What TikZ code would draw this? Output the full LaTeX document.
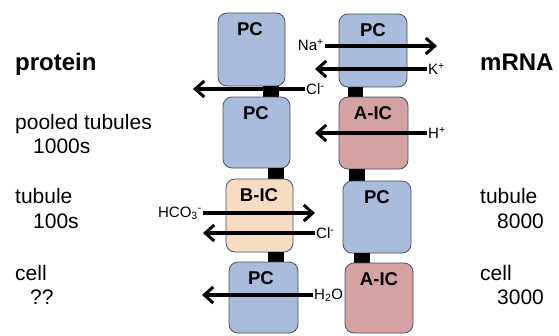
\documentclass[tikz,border=0pt]{standalone}
\usepackage{fontspec}
\setmainfont{Liberation Sans}
\usetikzlibrary{arrows.meta}
\definecolor{pcblue}{RGB}{169,188,219}
\definecolor{aicred}{RGB}{212,163,161}
\definecolor{bicorange}{RGB}{246,221,194}
\definecolor{cellborder}{RGB}{70,80,100}
\tikzset{
  cellbox/.style={draw=cellborder, line width=0.8pt, rounded corners=9pt},
  junction/.style={fill=black, draw=none},
  celllabel/.style={font=\fontsize{18.5}{21}\selectfont\bfseries, inner sep=0pt},
  ionlabel/.style={font=\fontsize{15}{18}\selectfont, inner sep=1pt},
  sidetext/.style={font=\fontsize{21}{24}\selectfont, inner sep=0pt, anchor=base west},
  sidehead/.style={font=\fontsize{24}{27}\selectfont\bfseries, inner sep=0pt, anchor=base west},
  flux/.style={line width=3.4pt, -{Straight Barb[length=9pt,width=16pt,line width=3pt]}}
}
\begin{document}
\begin{tikzpicture}[x=1pt,y=-1pt]
\useasboundingbox (0,0) rectangle (559,335);
% left column
\draw[cellbox, fill=pcblue] (218,13) rectangle (285,86);
\fill[junction] (263,86) rectangle (279,97);
\draw[cellbox, fill=pcblue] (223,97) rectangle (290,168);
\fill[junction] (268,168) rectangle (284,179);
\draw[cellbox, fill=bicorange] (226,179) rectangle (293,252);
\fill[junction] (268,252) rectangle (284,262);
\draw[cellbox, fill=pcblue] (229,262) rectangle (298,333);
% right column
\draw[cellbox, fill=pcblue] (339,14) rectangle (407,87);
\fill[junction] (348,87) rectangle (363,97);
\draw[cellbox, fill=aicred] (339,97) rectangle (408,169);
\fill[junction] (349,169) rectangle (365,181);
\draw[cellbox, fill=pcblue] (343,181) rectangle (411,253);
\fill[junction] (354,253) rectangle (370,263);
\draw[cellbox, fill=aicred] (345,263) rectangle (413,333);
% cell labels
\node[celllabel] (l1) at (250,29) {PC};
\node[celllabel] (l2) at (256,113) {PC};
\node[celllabel] (l3) at (259,195) {B-IC};
\node[celllabel] (l4) at (261,278) {PC};
\node[celllabel] (r1) at (373,30) {PC};
\node[celllabel] (r2) at (373,113) {A-IC};
\node[celllabel] (r3) at (377,197) {PC};
\node[celllabel] (r4) at (379,279) {A-IC};
% ion labels and arrows
\node[ionlabel, anchor=east] (na) at (325,45) {Na\textsuperscript{+}};
\coordinate (naend) at (437,46);
\draw[flux] (na.east |- naend) -- (naend);
\node[ionlabel, anchor=west] (k) at (427,69) {K\textsuperscript{+}};
\coordinate (kend) at (315,69);
\draw[flux] (k.west) -- (kend);
\node[ionlabel, anchor=west] (cl1) at (305,89) {Cl\textsuperscript{-}};
\coordinate (cl1end) at (193,89);
\draw[flux] (cl1.west) -- (cl1end);
\node[ionlabel, anchor=west] (h) at (427,133) {H\textsuperscript{+}};
\coordinate (hend) at (315,133);
\draw[flux] (h.west) -- (hend);
\node[ionlabel, anchor=east] (hco) at (203,213) {HCO\textsubscript{3}\textsuperscript{-}};
\coordinate (hcoend) at (315,213);
\draw[flux] (hco.east |- hcoend) -- (hcoend);
\node[ionlabel, anchor=west] (cl2) at (315,233) {Cl\textsuperscript{-}};
\coordinate (cl2end) at (203,233);
\draw[flux] (cl2.west) -- (cl2end);
\node[ionlabel, anchor=west] (water) at (313,295) {H\textsubscript{2}O};
\coordinate (waterend) at (202,295);
\draw[flux] (water.west) -- (waterend);
% side texts
\node[sidehead] (protein) at (15,70) {protein};
\node[sidetext] (pooled) at (15,129) {pooled tubules};
\node[sidetext] (n1000) at (33,153) {1000s};
\node[sidetext] (tubL) at (15,203) {tubule};
\node[sidetext] (n100) at (33,228) {100s};
\node[sidetext] (cellL) at (15,280) {cell};
\node[sidetext] (qq) at (30,304) {??};
\node[sidehead] (mrna) at (480,70) {mRNA};
\node[sidetext] (tubR) at (480,203) {tubule};
\node[sidetext] (n8000) at (497,228) {8000};
\node[sidetext] (cellR) at (480,280) {cell};
\node[sidetext] (n3000) at (497,304) {3000};
\end{tikzpicture}
\end{document}
